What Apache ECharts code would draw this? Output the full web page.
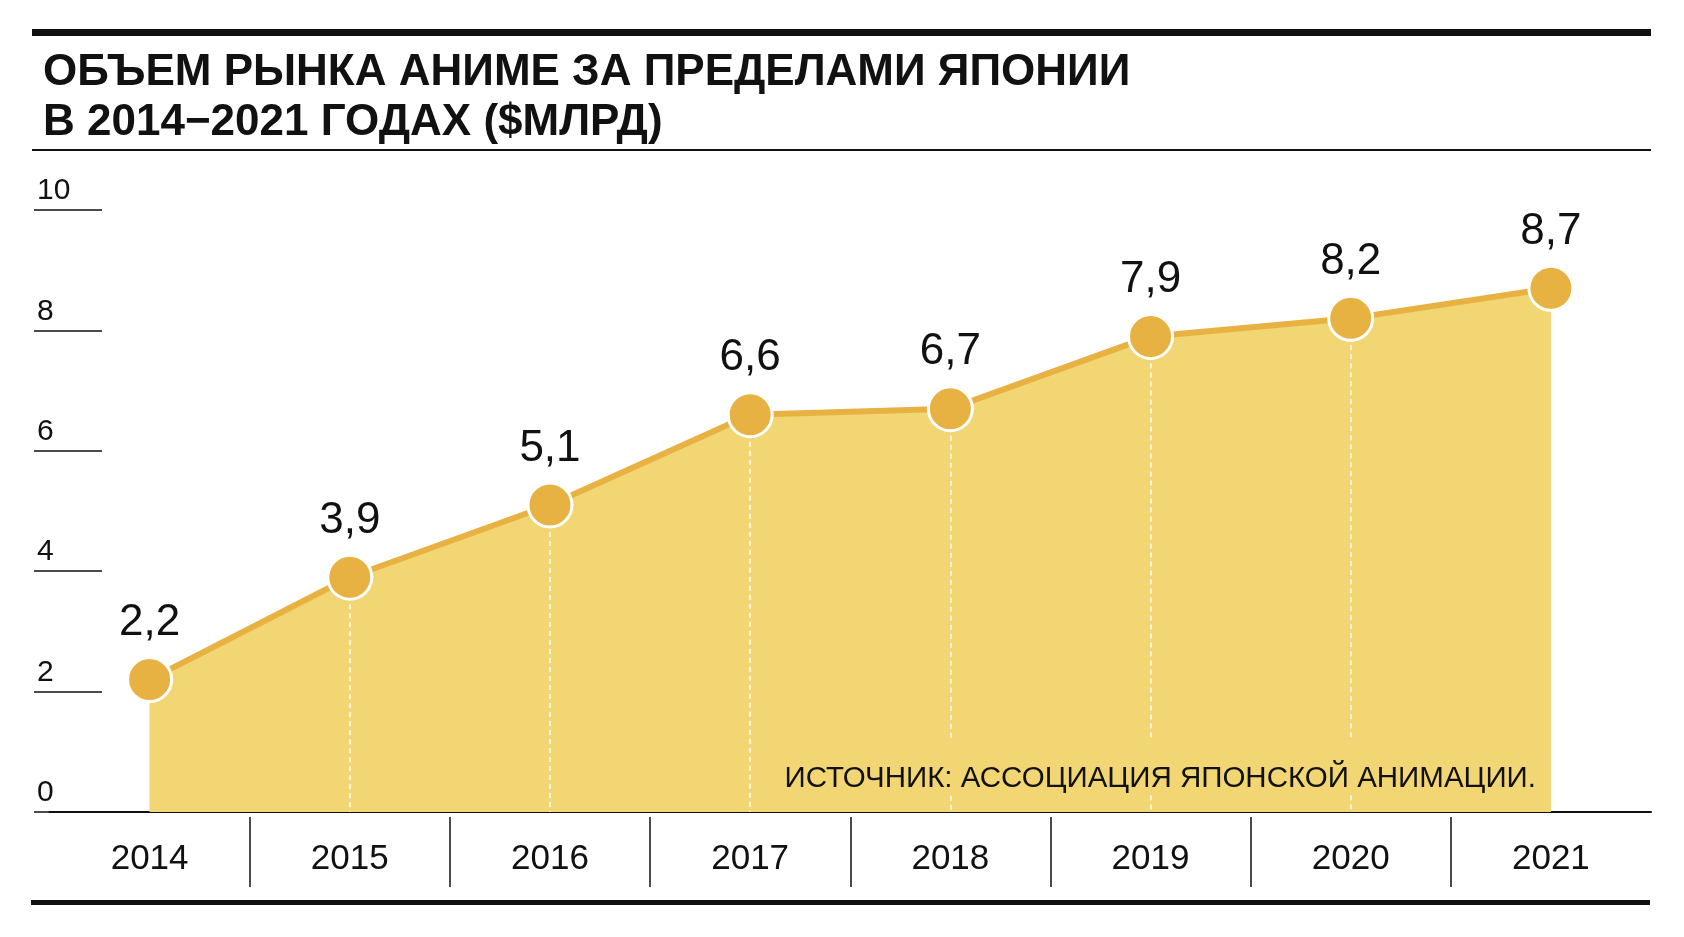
<!DOCTYPE html>
<html><head><meta charset="utf-8">
<script src="https://cdn.jsdelivr.net/npm/echarts@6/dist/echarts.min.js"></script>
<style>html,body{margin:0;padding:0;background:#fff}#c{width:1684px;height:937px}</style>
</head><body><div id="c"></div>
<script>
const categories = ['2014','2015','2016','2017','2018','2019','2020','2021'];
const values = [2.2, 3.9, 5.1, 6.6, 6.7, 7.9, 8.2, 8.7];
const yTicks = [0, 2, 4, 6, 8, 10];
const titleText = 'ОБЪЕМ РЫНКА АНИМЕ ЗА ПРЕДЕЛАМИ ЯПОНИИ\nВ 2014−2021 ГОДАХ ($МЛРД)';
const sourceText = 'ИСТОЧНИК: АССОЦИАЦИЯ ЯПОНСКОЙ АНИМАЦИИ.';

const INK = '#111';
const FILL = '#F1D673';
const GOLD = '#E8B243';
const FONT = '"Liberation Sans", Arial, Helvetica, sans-serif';

const boundaries = categories.concat(['']).map((c, i) => 'b' + i);
const dropLines = categories.slice(1, -1).map((c, i) => [
  { coord: [c, values[i + 1]] },
  { coord: [c, 0] }
]);

const chart = echarts.init(document.getElementById('c'), null, { renderer: 'canvas' });
chart.setOption({
  animation: false,
  backgroundColor: '#fff',
  textStyle: { fontFamily: FONT },
  title: {
    text: titleText,
    left: 38,
    top: 43,
    textStyle: { fontFamily: FONT, fontWeight: 'bold', fontSize: 44, lineHeight: 50, color: INK }
  },
  grid: { left: 49.5, right: 33, top: 210, bottom: 125, containLabel: false },
  xAxis: [
    {
      type: 'category', data: categories, boundaryGap: true, gridIndex: 0,
      axisLine: { show: true, lineStyle: { color: INK, width: 2 } },
      axisTick: { show: false },
      axisLabel: { fontSize: 35, color: INK, margin: 30, fontFamily: FONT },
      splitLine: { show: false }
    },
    {
      type: 'category', data: boundaries, boundaryGap: false, gridIndex: 0,
      position: 'bottom', offset: 5,
      axisLine: { show: false },
      axisLabel: { show: false },
      axisTick: {
        show: true, length: 70,
        interval: (i) => i > 0 && i < categories.length,
        lineStyle: { color: INK, width: 1.5 }
      },
      splitLine: { show: false }
    }
  ],
  yAxis: {
    type: 'value', min: yTicks[0], max: yTicks[yTicks.length - 1], interval: 2,
    offset: 15.5,
    axisLine: { show: false },
    axisTick: { show: true, inside: true, length: 68, lineStyle: { color: INK, width: 1.5 } },
    axisLabel: {
      inside: true, align: 'left', verticalAlign: 'bottom', margin: 3,
      fontSize: 30, color: INK, padding: [0, 0, 4, 0], fontFamily: FONT
    },
    splitLine: { show: false }
  },
  series: [
    {
      type: 'line', data: values, z: 1,
      symbol: 'none',
      lineStyle: { width: 0 },
      areaStyle: { color: FILL, opacity: 1 },
      markLine: {
        z: 2, silent: true, symbol: 'none', animation: false,
        label: { show: false },
        lineStyle: { color: '#fff', type: [5, 4], width: 1.5 },
        data: dropLines
      }
    },
    {
      type: 'line', data: values, z: 3,
      symbol: 'circle', symbolSize: 44,
      lineStyle: { color: GOLD, width: 6 },
      itemStyle: { color: GOLD, borderColor: '#fff', borderWidth: 3 },
      label: {
        show: true, position: 'top', distance: 11,
        fontSize: 44, color: INK, fontFamily: FONT,
        formatter: (p) => String(p.value).replace('.', ',')
      }
    }
  ],
  graphic: [
    { type: 'rect', shape: { x: 32, y: 29, width: 1619, height: 7 }, style: { fill: INK }, z: 100 },
    { type: 'rect', shape: { x: 32, y: 149, width: 1619, height: 2 }, style: { fill: INK }, z: 100 },
    { type: 'rect', shape: { x: 31, y: 900, width: 1619, height: 5 }, style: { fill: INK }, z: 100 },
    {
      type: 'text', z: 100,
      style: {
        text: sourceText, x: 1540, y: 793, align: 'right', verticalAlign: 'bottom',
        fontSize: 29.5, lineHeight: 29, fontFamily: FONT, fill: INK,
        backgroundColor: FILL, padding: [26, 4, 0, 4]
      }
    }
  ]
});
</script></body></html>
